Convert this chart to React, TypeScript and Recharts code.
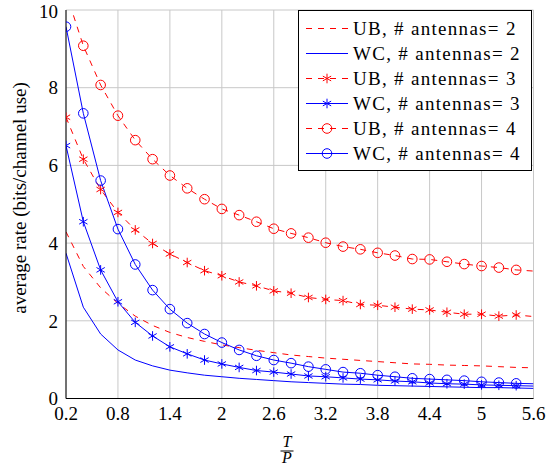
import React from "react";
import { LineChart, Line, XAxis, YAxis, CartesianGrid, Legend } from "recharts";

// T/P values (data step 0.2, markers drawn up to 5.4)
const ratio = [0.2, 0.4, 0.6, 0.8, 1.0, 1.2, 1.4, 1.6, 1.8, 2.0, 2.2, 2.4, 2.6, 2.8, 3.0, 3.2, 3.4, 3.6, 3.8, 4.0, 4.2, 4.4, 4.6, 4.8, 5.0, 5.2, 5.4, 5.6];

// average rate, bits/channel use
const ub2 = [4.29, 3.4, 2.85, 2.45, 2.12, 1.88, 1.7, 1.57, 1.47, 1.38, 1.31, 1.24, 1.18, 1.12, 1.08, 1.04, 1.01, 0.98, 0.95, 0.92, 0.89, 0.88, 0.86, 0.85, 0.84, 0.82, 0.8, 0.79];
const wc2 = [3.74, 2.35, 1.66, 1.25, 0.99, 0.84, 0.73, 0.66, 0.6, 0.56, 0.52, 0.49, 0.46, 0.43, 0.41, 0.39, 0.37, 0.36, 0.34, 0.33, 0.32, 0.31, 0.3, 0.29, 0.28, 0.28, 0.27, 0.26];
const ub3 = [7.24, 6.16, 5.38, 4.79, 4.34, 3.99, 3.72, 3.5, 3.29, 3.16, 3.0, 2.9, 2.77, 2.71, 2.6, 2.55, 2.52, 2.42, 2.4, 2.35, 2.3, 2.28, 2.22, 2.17, 2.17, 2.12, 2.15, 2.11];
const wc3 = [6.51, 4.55, 3.31, 2.49, 1.96, 1.61, 1.33, 1.15, 0.99, 0.89, 0.8, 0.72, 0.68, 0.63, 0.58, 0.56, 0.53, 0.5, 0.48, 0.45, 0.43, 0.4, 0.38, 0.37, 0.35, 0.34, 0.33, 0.32];
const ub4 = [10.45, 9.08, 8.07, 7.28, 6.65, 6.16, 5.74, 5.41, 5.13, 4.88, 4.72, 4.55, 4.37, 4.25, 4.14, 4.01, 3.91, 3.84, 3.75, 3.68, 3.59, 3.58, 3.52, 3.46, 3.41, 3.37, 3.31, 3.28];
const wc4 = [9.57, 7.34, 5.61, 4.36, 3.45, 2.79, 2.3, 1.94, 1.66, 1.44, 1.25, 1.1, 0.99, 0.91, 0.82, 0.75, 0.68, 0.65, 0.6, 0.56, 0.52, 0.5, 0.48, 0.46, 0.43, 0.41, 0.39, 0.38];

const xTicks = [0.2, 0.8, 1.4, 2, 2.6, 3.2, 3.8, 4.4, 5, 5.6];
const yTicks = [0, 2, 4, 6, 8, 10];

const data = ratio.map((x, i) => ({
  x,
  ub2: ub2[i],
  wc2: wc2[i],
  ub3: ub3[i],
  wc3: wc3[i],
  ub4: ub4[i],
  wc4: wc4[i],
}));

type Mark = "none" | "star" | "circle";

const series: { key: string; name: string; color: string; dashed: boolean; mark: Mark }[] = [
  { key: "ub2", name: "UB, # antennas= 2", color: "#ff0000", dashed: true, mark: "none" },
  { key: "wc2", name: "WC, # antennas= 2", color: "#0000ff", dashed: false, mark: "none" },
  { key: "ub3", name: "UB, # antennas= 3", color: "#ff0000", dashed: true, mark: "star" },
  { key: "wc3", name: "WC, # antennas= 3", color: "#0000ff", dashed: false, mark: "star" },
  { key: "ub4", name: "UB, # antennas= 4", color: "#ff0000", dashed: true, mark: "circle" },
  { key: "wc4", name: "WC, # antennas= 4", color: "#0000ff", dashed: false, mark: "circle" },
];

const FONT = 'Liberation Serif, "Times New Roman", Times, Tinos, DejaVu Serif, Noto Serif, serif';
const DASH = "6 6";
const R = 4.8;

function Marker({ cx, cy, color, mark }: { cx: number; cy: number; color: string; mark: Mark }) {
  if (mark === "circle") {
    return <circle cx={cx} cy={cy} r={R} fill="none" stroke={color} strokeWidth={1} />;
  }
  if (mark === "star") {
    const a = R * Math.cos(Math.PI / 6);
    const b = R * 0.5;
    return (
      <g stroke={color} strokeWidth={1}>
        <line x1={cx} y1={cy - R} x2={cx} y2={cy + R} />
        <line x1={cx - a} y1={cy - b} x2={cx + a} y2={cy + b} />
        <line x1={cx - a} y1={cy + b} x2={cx + a} y2={cy - b} />
      </g>
    );
  }
  return null;
}

function makeDot(color: string, mark: Mark) {
  return (props: any) => {
    const { cx, cy, payload, index } = props;
    if (payload.x > 5.5 || cx == null || cy == null) return <g key={index} />;
    return (
      <g key={index}>
        <Marker cx={cx} cy={cy} color={color} mark={mark} />
      </g>
    );
  };
}

function LegendBox() {
  return (
    <div
      style={{
        width: 234,
        height: 161,
        boxSizing: "border-box",
        border: "1px solid #000",
        background: "#fff",
        padding: "5px 0 0 0",
        fontFamily: FONT,
        fontSize: 19,
        color: "#000",
      }}
    >
      {series.map((s) => (
        <div key={s.key} style={{ height: 25, display: "flex", alignItems: "center" }}>
          <svg width={48} height={25} style={{ marginLeft: 6, flex: "none" }}>
            <line x1={1} y1={12.5} x2={43} y2={12.5} stroke={s.color} strokeWidth={1} strokeDasharray={s.dashed ? DASH : undefined} />
            <Marker cx={22} cy={12.5} color={s.color} mark={s.mark} />
          </svg>
          <span style={{ whiteSpace: "nowrap", letterSpacing: 1.3 }}>{s.name}</span>
        </div>
      ))}
    </div>
  );
}

const XTitle = () => (
  <g fontFamily={FONT} fontStyle="italic" fontSize={16} fill="#000">
    <text x={287} y={447} textAnchor="middle">T</text>
    <line x1={280.5} y1={451} x2={293.5} y2={451} stroke="#000" strokeWidth={1} />
    <text x={287} y={463} textAnchor="middle">P</text>
  </g>
);

const YTitle = () => (
  <text
    x={19}
    y={198}
    transform="rotate(-90 19 198)"
    textAnchor="middle"
    dominantBaseline="central"
    fontFamily={FONT}
    fontSize={19}
    fill="#000"
  >
    average rate (bits/channel use)
  </text>
);

export default function App() {
  const tickStyle = { fontFamily: FONT, fontSize: 19, fill: "#000" };
  return (
    <div style={{ position: "absolute", left: 0, top: 0, width: 546, height: 466, background: "#fff" }}>
      <LineChart width={546} height={466} data={data} margin={{ top: 10, right: 12.5, left: 0, bottom: 37.5 }}>
        <CartesianGrid stroke="#c8c8c8" strokeWidth={1} />
        <XAxis
          dataKey="x"
          type="number"
          domain={[0.2, 5.6]}
          ticks={xTicks}
          allowDataOverflow
          height={30}
          tickLine={false}
          axisLine={{ stroke: "#000", strokeWidth: 1 }}
          tick={tickStyle}
          label={XTitle}
        />
        <XAxis
          xAxisId="top"
          dataKey="x"
          type="number"
          domain={[0.2, 5.6]}
          orientation="top"
          height={0}
          tick={false}
          tickLine={false}
          axisLine={{ stroke: "#000", strokeWidth: 1 }}
        />
        <YAxis
          type="number"
          domain={[0, 10]}
          ticks={yTicks}
          allowDataOverflow
          width={66}
          tickLine={false}
          axisLine={{ stroke: "#000", strokeWidth: 1 }}
          tick={tickStyle}
          label={YTitle}
        />
        <YAxis
          yAxisId="right"
          type="number"
          domain={[0, 10]}
          orientation="right"
          width={0}
          tick={false}
          tickLine={false}
          axisLine={{ stroke: "#000", strokeWidth: 1 }}
        />
        {series.map((s) => (
          <Line
            key={s.key}
            type="linear"
            dataKey={s.key}
            name={s.name}
            stroke={s.color}
            strokeWidth={1}
            strokeDasharray={s.dashed ? DASH : undefined}
            dot={s.mark === "none" ? false : makeDot(s.color, s.mark)}
            activeDot={false}
            isAnimationActive={false}
          />
        ))}
        <Legend
          layout="vertical"
          align="center"
          verticalAlign="middle"
          content={() => <LegendBox />}
          wrapperStyle={{ left: 298, top: 10, width: 234, height: 161 }}
        />
      </LineChart>
    </div>
  );
}
